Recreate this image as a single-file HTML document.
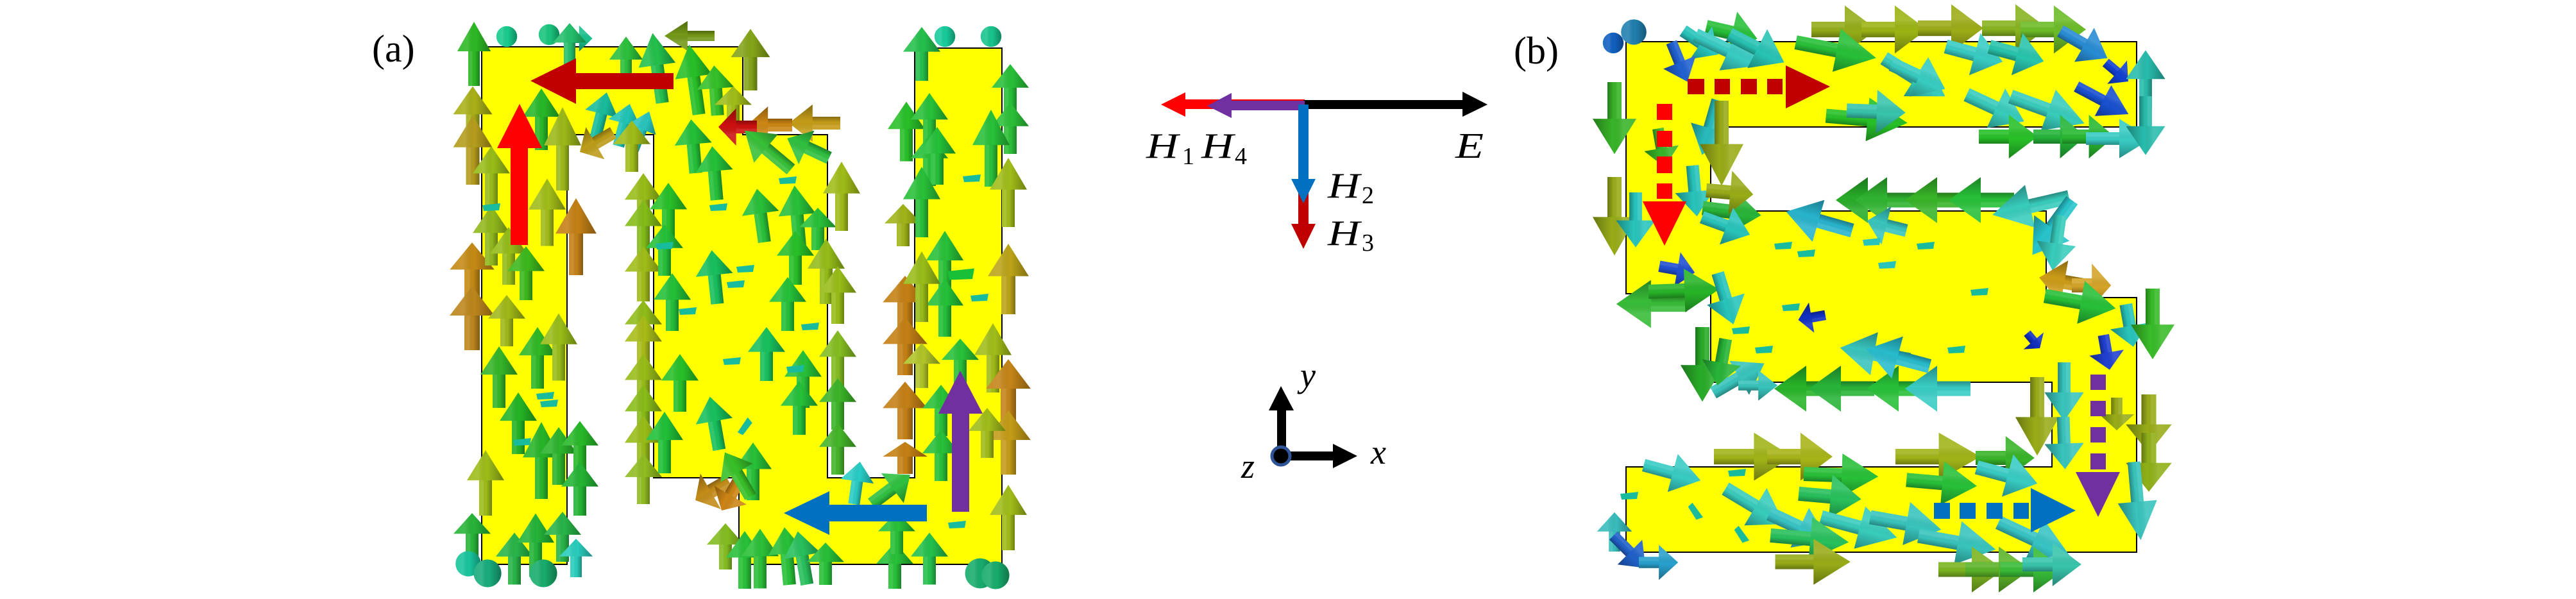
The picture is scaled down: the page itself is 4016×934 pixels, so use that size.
<!DOCTYPE html>
<html><head><meta charset="utf-8"><style>html,body{margin:0;padding:0;background:#fff}svg{display:block}</style></head><body>
<svg xmlns="http://www.w3.org/2000/svg" xmlns:xlink="http://www.w3.org/1999/xlink" width="4016" height="934" viewBox="0 0 4016 934">
<defs>
<linearGradient id="sh" x1="0" y1="0" x2="1" y2="0">
<stop offset="0" stop-color="#fff" stop-opacity=".08"/>
<stop offset=".3" stop-color="#fff" stop-opacity=".12"/>
<stop offset=".55" stop-color="#000" stop-opacity="0"/>
<stop offset="1" stop-color="#000" stop-opacity=".32"/>
</linearGradient>
<g id="a"><path d="M-10,-8H10V50H-10Z" fill="currentColor"/><path d="M-10,-8H10V50H-10Z" fill="url(#sh)"/><path d="M0,-50L29,-4H-29Z" fill="currentColor"/><path d="M0,-50L29,-4H-29Z" fill="url(#sh)"/></g>
<g id="b"><path d="M-11,-6H11V50H-11Z" fill="currentColor"/><path d="M-11,-6H11V50H-11Z" fill="url(#sh)"/><path d="M0,-52L34,-2H-34Z" fill="currentColor"/><path d="M0,-52L34,-2H-34Z" fill="url(#sh)"/></g>
<g id="o"><circle r="18" fill="currentColor"/><circle r="18" fill="url(#sh)"/></g>
<path id="s" d="M-14,-4L14,-7L12,4L-12,5Z" fill="currentColor"/>
</defs>
<rect width="4016" height="934" fill="#fff"/>

<!-- Panel (a) shape -->
<polygon points="751,73 1158,73 1158,210 1290,210 1290,745 1426,745 1426,75 1562,75 1562,880 1152,880 1152,745 1019,745 1019,210 884,210 884,880 751,880" fill="#ffff00" stroke="#000" stroke-width="2"/>
<!-- Panel (b) shape -->
<polygon points="2535,65 3331,65 3331,198 2667,198 2667,329 3190,329 3190,464 3331,464 3331,861 2535,861 2535,728 3199,728 3199,596 2667,596 2667,458 2535,458" fill="#ffff00" stroke="#000" stroke-width="2"/>

<text x="580" y="96" font-family="Liberation Serif, serif" font-size="60">(a)</text>
<text x="2360" y="99" font-family="Liberation Serif, serif" font-size="60">(b)</text>

<!-- Panel (a) arrows -->
<g>
<use href="#a" color="#2cb824" transform="translate(739,84) scale(0.9,1.0)"/>
<use href="#a" color="#a8b018" transform="translate(737,182) scale(1.05,0.95)"/>
<use href="#a" color="#b49c1c" transform="translate(737,234) scale(1.05,1.08)"/>
<use href="#a" color="#c48a14" transform="translate(736,424) scale(1.2,0.92)"/>
<use href="#a" color="#bc861c" transform="translate(736,496) scale(1.2,1.0)"/>
<use href="#a" color="#98bc18" transform="translate(766,274) scale(1,0.92)"/>
<use href="#a" color="#90b81c" transform="translate(766,367) scale(1,0.94)"/>
<use href="#a" color="#28b828" transform="translate(844,186) scale(1,0.96)"/>
<use href="#a" color="#9cb818" transform="translate(877,232) scale(1,1.3)"/>
<use href="#a" color="#a0bc18" transform="translate(853,331) scale(1,1.05)"/>
<use href="#a" color="#c48016" transform="translate(898,369) scale(1.1,1.2)"/>
<use href="#a" color="#94bc18" transform="translate(793,399) scale(1,0.9)"/>
<use href="#a" color="#3cb81c" transform="translate(820,426) scale(1,0.84)"/>
<use href="#a" color="#a0b818" transform="translate(790,500) scale(1,0.8)"/>
<use href="#a" color="#34b428" transform="translate(778,588) scale(1,0.96)"/>
<use href="#a" color="#30b824" transform="translate(838,558) scale(1,0.96)"/>
<use href="#a" color="#98bc18" transform="translate(871,541) scale(1,1.05)"/>
<use href="#a" color="#24b424" transform="translate(808,660) scale(1,0.96)"/>
<use href="#a" color="#28b428" transform="translate(844,718) scale(1,1.2)"/>
<use href="#a" color="#2cb42c" transform="translate(871,711) scale(1,0.9)"/>
<use href="#a" color="#28b828" transform="translate(904,698) scale(1,0.83)"/>
<use href="#a" color="#24b434" transform="translate(904,762) scale(1,0.84)"/>
<use href="#a" color="#9cbc18" transform="translate(757,753) scale(1,1.02)"/>
<use href="#a" color="#28b438" transform="translate(736,835) scale(1,0.7)"/>
<use href="#a" color="#28b448" transform="translate(802,871) scale(1,0.81)"/>
<use href="#a" color="#24b438" transform="translate(835,850) scale(1,0.99)"/>
<use href="#a" color="#28b448" transform="translate(877,837) scale(1,0.78)"/>
<use href="#a" color="#28ccbc" transform="translate(898,870) scale(0.9,0.6)"/>
<use href="#o" color="#18c49c" transform="translate(730,879) scale(1.1)"/>
<use href="#o" color="#18ac7c" transform="translate(760,894) scale(1.2)"/>
<use href="#o" color="#18ac6c" transform="translate(847,894) scale(1.2)"/>
<use href="#o" color="#18cc8c" transform="translate(790,57) scale(0.9)"/>
<use href="#o" color="#18c47c" transform="translate(856,54) scale(0.9)"/>
<use href="#a" color="#18c08c" transform="translate(901,60) rotate(90) scale(0.7,0.45)"/>
<use href="#s" color="#18bc9c" transform="translate(850,618)"/>
<use href="#s" color="#18bc9c" transform="translate(856,630)"/>
<use href="#s" color="#18bc9c" transform="translate(814,690)"/>
<use href="#s" color="#18bc9c" transform="translate(766,324)"/>

<use href="#a" color="#24c06c" transform="translate(888,69) scale(0.9,0.66)"/>
<use href="#a" color="#2cc03c" transform="translate(976,96) scale(0.9,0.78)"/>
<use href="#a" color="#24c04c" transform="translate(1025,106) rotate(-8) scale(1,1.1)"/>
<use href="#a" color="#749818" transform="translate(1075,56) rotate(-90) scale(0.8,0.78)"/>
<use href="#a" color="#84a418" transform="translate(1170,93) scale(1.05,0.96)"/>
<use href="#a" color="#28c028" transform="translate(1082,124) rotate(-8) scale(1,1.1)"/>
<use href="#a" color="#34c028" transform="translate(1116,141) rotate(-4) scale(1,0.78)"/>
<use href="#a" color="#a0bc18" transform="translate(1143,166) scale(1,0.63)"/>
<use href="#a" color="#18bc9c" transform="translate(937,180) rotate(14) scale(0.9,0.74)"/>
<use href="#a" color="#20c4b4" transform="translate(973,195) rotate(15) scale(0.9,0.68)"/>
<use href="#a" color="#28c4bc" transform="translate(1000,204) rotate(22) scale(0.8,0.65)"/>
<use href="#a" color="#a0bc18" transform="translate(985,228) scale(1,0.8)"/>
<use href="#a" color="#bc9c18" transform="translate(930,222) rotate(-120) scale(1,0.6)"/>
<use href="#a" color="#c49c18" transform="translate(1270,192) rotate(-90) scale(1,0.8)"/>
<use href="#a" color="#cc8614" transform="translate(1200,195) rotate(-90) scale(1,0.7)"/>
<use href="#a" color="#cc1010" transform="translate(1150,198) rotate(-90) scale(1,0.6)"/>
<use href="#a" color="#38c038" transform="translate(1197,234) rotate(-50) scale(1,0.94)"/>
<use href="#a" color="#30c040" transform="translate(1260,231) rotate(-65) scale(1,0.72)"/>

<use href="#a" color="#98bc18" transform="translate(1003,315) scale(1,0.9)"/>
<use href="#a" color="#84bc18" transform="translate(1003,356) scale(1,0.88)"/>
<use href="#a" color="#a0bc18" transform="translate(1003,427) scale(1,0.86)"/>
<use href="#a" color="#90bc18" transform="translate(1003,509) scale(1,0.82)"/>
<use href="#a" color="#a8bc18" transform="translate(1003,536) scale(1,0.88)"/>
<use href="#a" color="#98bc18" transform="translate(1003,596) scale(1,0.88)"/>
<use href="#a" color="#88bc18" transform="translate(1003,645) scale(1,0.9)"/>
<use href="#a" color="#98bc18" transform="translate(1003,694) scale(1,0.92)"/>
<use href="#a" color="#90bc20" transform="translate(1003,747) scale(1,0.78)"/>
<use href="#a" color="#28c028" transform="translate(1042,330) scale(1,0.9)"/>
<use href="#a" color="#24c038" transform="translate(1036,390) scale(1,0.8)"/>
<use href="#a" color="#24c038" transform="translate(1081,228) rotate(-5) scale(1,0.84)"/>
<use href="#a" color="#24c038" transform="translate(1114,270) rotate(-5) scale(1,0.84)"/>
<use href="#a" color="#28c038" transform="translate(1186,336) rotate(-8) scale(1,0.84)"/>
<use href="#a" color="#28c038" transform="translate(1243,339) rotate(-5) scale(1,1.0)"/>
<use href="#a" color="#28c038" transform="translate(1275,357) scale(1,0.66)"/>
<use href="#a" color="#18c05c" transform="translate(1114,432) rotate(-6) scale(1,0.84)"/>
<use href="#a" color="#24c038" transform="translate(1048,471) scale(1,0.9)"/>
<use href="#a" color="#28c028" transform="translate(1240,402) scale(1,0.84)"/>
<use href="#a" color="#94bc18" transform="translate(1288,423) scale(1,1.02)"/>
<use href="#a" color="#a0bc18" transform="translate(1312,306) scale(1,1.08)"/>
<use href="#a" color="#24c038" transform="translate(1228,474) scale(1,0.84)"/>
<use href="#a" color="#18c05c" transform="translate(1195,552) scale(1,0.84)"/>
<use href="#a" color="#98bc18" transform="translate(1306,460) scale(1,0.9)"/>
<use href="#a" color="#84bc20" transform="translate(1306,560) scale(1,0.9)"/>
<use href="#a" color="#3cb428" transform="translate(1306,630) scale(1,0.8)"/>
<use href="#a" color="#44b428" transform="translate(1306,700) scale(1,0.8)"/>
<use href="#a" color="#28c038" transform="translate(1252,591) scale(1,0.9)"/>
<use href="#a" color="#24c038" transform="translate(1246,636) scale(1,0.84)"/>
<use href="#a" color="#28c028" transform="translate(1060,597) scale(1,0.9)"/>
<use href="#a" color="#20c038" transform="translate(1036,690) scale(1,0.96)"/>
<use href="#a" color="#18c05c" transform="translate(1114,660) rotate(-10) scale(1,0.84)"/>
<use href="#a" color="#28c038" transform="translate(1174,735) scale(1,0.9)"/>
<use href="#a" color="#c48c18" transform="translate(1110,765) rotate(-120) scale(1.1,0.6)"/>
<use href="#a" color="#cc8414" transform="translate(1140,770) rotate(-150) scale(1,0.6)"/>
<use href="#a" color="#38c028" transform="translate(1150,740) rotate(-30) scale(1,0.8)"/>
<use href="#s" color="#18bc9c" transform="translate(1120,324)"/>
<use href="#s" color="#18bc9c" transform="translate(1162,420)"/>
<use href="#s" color="#18bc9c" transform="translate(1147,444)"/>
<use href="#s" color="#18bc9c" transform="translate(1072,486)"/>
<use href="#s" color="#18bc9c" transform="translate(1036,384)"/>
<use href="#s" color="#18bc9c" transform="translate(1263,510)"/>
<use href="#s" color="#18bc9c" transform="translate(1240,576)"/>
<use href="#s" color="#18bc9c" transform="translate(1228,282)"/>
<use href="#s" color="#18bc9c" transform="translate(1162,666) rotate(-50)"/>
<use href="#s" color="#18bc9c" transform="translate(1141,564)"/>

<use href="#a" color="#28ccc4" transform="translate(1336,753) rotate(8) scale(0.9,0.67)"/>
<use href="#a" color="#30c040" transform="translate(1389,763) rotate(53) scale(1,0.75)"/>
<use href="#a" color="#84bc20" transform="translate(1131,852) scale(1,0.72)"/>
<use href="#a" color="#28c038" transform="translate(1161,873) scale(1,0.9)"/>
<use href="#a" color="#2cc038" transform="translate(1185,871) scale(1,0.93)"/>
<use href="#a" color="#28c038" transform="translate(1227,867) rotate(-5) scale(1,0.9)"/>
<use href="#a" color="#28c05c" transform="translate(1251,870) rotate(-10) scale(1,0.84)"/>
<use href="#a" color="#28c038" transform="translate(1287,879) scale(1,0.66)"/>
<use href="#a" color="#28c038" transform="translate(1395,882) scale(1,0.72)"/>
<use href="#a" color="#24c04c" transform="translate(1449,871) scale(1,0.81)"/>
<use href="#a" color="#28c038" transform="translate(1398,831) scale(1,0.66)"/>

<use href="#a" color="#c48014" transform="translate(1411,475) scale(1.2,0.9)"/>
<use href="#a" color="#c48014" transform="translate(1411,540) scale(1.2,0.9)"/>
<use href="#a" color="#c48016" transform="translate(1411,640) scale(1.2,0.9)"/>
<use href="#a" color="#c48014" transform="translate(1411,714) scale(1.2,0.5)"/>
<use href="#a" color="#a0b418" transform="translate(1408,351) scale(1,0.66)"/>
<use href="#a" color="#24c04c" transform="translate(1437,84) scale(1,0.84)"/>
<use href="#a" color="#28c028" transform="translate(1413,205) scale(1,0.93)"/>
<use href="#a" color="#28c038" transform="translate(1449,190) scale(1,0.9)"/>
<use href="#a" color="#28c038" transform="translate(1449,250) scale(1,0.8)"/>
<use href="#a" color="#24c038" transform="translate(1461,243) scale(1,0.9)"/>
<use href="#a" color="#28c038" transform="translate(1437,315) scale(1,1.1)"/>
<use href="#a" color="#28c038" transform="translate(1473,410) scale(1,1.0)"/>
<use href="#a" color="#24c038" transform="translate(1473,480) scale(1,0.9)"/>
<use href="#a" color="#98bc18" transform="translate(1437,447) scale(1,1.1)"/>
<use href="#a" color="#28c038" transform="translate(1575,140) scale(1,0.8)"/>
<use href="#a" color="#2cc038" transform="translate(1575,200) scale(1,0.8)"/>
<use href="#a" color="#28c038" transform="translate(1545,231) scale(1,1.2)"/>
<use href="#a" color="#a0bc18" transform="translate(1572,300) scale(1,1.08)"/>
<use href="#a" color="#bca418" transform="translate(1572,435) scale(1.1,1.1)"/>
<use href="#a" color="#a0bc18" transform="translate(1548,558) scale(1,1.08)"/>
<use href="#a" color="#c48418" transform="translate(1572,610) scale(1.2,1.0)"/>
<use href="#a" color="#c49c18" transform="translate(1572,690) scale(1.2,1.0)"/>
<use href="#a" color="#a0bc18" transform="translate(1539,675) scale(1,0.78)"/>
<use href="#a" color="#a0bc18" transform="translate(1572,807) scale(1,1.02)"/>
<use href="#a" color="#28c038" transform="translate(1497,564) scale(1,0.72)"/>
<use href="#a" color="#28c038" transform="translate(1467,640) scale(1,0.8)"/>
<use href="#a" color="#28c038" transform="translate(1467,710) scale(1,0.8)"/>
<use href="#a" color="#b0c428" transform="translate(1437,570) scale(1,0.7)"/>
<use href="#o" color="#18cc9c" transform="translate(1473,57) scale(0.9)"/>
<use href="#o" color="#18c48c" transform="translate(1545,57) scale(0.9)"/>
<use href="#o" color="#18ac6c" transform="translate(1528,894) scale(1.3)"/>
<use href="#o" color="#18ac6c" transform="translate(1552,897) scale(1.2)"/>
<use href="#s" color="#18bc9c" transform="translate(1515,279)"/>
<use href="#s" color="#18c038" transform="translate(1498,429) scale(1.5)"/>
<use href="#s" color="#18bc9c" transform="translate(1527,465)"/>
<use href="#s" color="#18bc9c" transform="translate(1492,819)"/>
</g>

<!-- Panel (a) overlay arrows -->
<rect x="898" y="114" width="152" height="25" fill="#c00000"/>
<polygon points="827,126 898,91 898,162" fill="#c00000"/>
<rect x="796" y="231" width="27" height="151" fill="#ff0000"/>
<polygon points="775,231 845,231 810,162" fill="#ff0000"/>
<rect x="1293" y="787" width="152" height="26" fill="#0070c0"/>
<polygon points="1222,800 1293,766 1293,834" fill="#0070c0"/>
<rect x="1484" y="645" width="27" height="153" fill="#7030a0"/>
<polygon points="1463,645 1532,645 1497,578" fill="#7030a0"/>

<!-- Panel (b) arrows -->
<g>
<use href="#o" color="#1060c0" transform="translate(2515,67) scale(0.9)"/>
<use href="#o" color="#2080b0" transform="translate(2547,50) scale(1.1)"/>
<use href="#b" color="#94ac18" transform="translate(2874,46) rotate(90) scale(1.1,1.0)"/>
<use href="#b" color="#9cb414" transform="translate(2952,46) rotate(90) scale(1.1,1.0)"/>
<use href="#b" color="#9cac18" transform="translate(3040,44) rotate(90) scale(1.1,1.0)"/>
<use href="#b" color="#88b420" transform="translate(3140,44) rotate(90) scale(1.1,1.0)"/>
<use href="#b" color="#6cbc28" transform="translate(3200,46) rotate(90) scale(1.1,1.0)"/>
<use href="#b" color="#28c038" transform="translate(2699,51) rotate(103) scale(1,0.8)"/>
<use href="#b" color="#28c4bc" transform="translate(2651,66) rotate(124) scale(0.9,0.65)"/>
<use href="#b" color="#38ccc4" transform="translate(2693,78) rotate(115) scale(1,1.1)"/>
<use href="#b" color="#28c4b4" transform="translate(2738,75) rotate(117) scale(1,0.94)"/>
<use href="#b" color="#28c038" transform="translate(2861,78) rotate(101) scale(1,1.25)"/>
<use href="#b" color="#38ccbc" transform="translate(2984,120) rotate(122) scale(1,1.1)"/>
<use href="#b" color="#38ccc0" transform="translate(2990,119) rotate(115) scale(1,0.9)"/>
<use href="#b" color="#38ccc4" transform="translate(3077,84) rotate(105) scale(1,0.9)"/>
<use href="#b" color="#28c4ac" transform="translate(3143,84) rotate(105) scale(1,0.86)"/>
<use href="#b" color="#288cd4" transform="translate(3248,69) rotate(120) scale(0.9,0.83)"/>
<use href="#b" color="#1040d0" transform="translate(3300,112) rotate(130) scale(0.7,0.45)"/>
<use href="#b" color="#28c028" transform="translate(2909,186) rotate(95) scale(1,1.25)"/>
<use href="#b" color="#38c4ac" transform="translate(2924,174) rotate(92) scale(1,0.9)"/>
<use href="#b" color="#38ccbc" transform="translate(3110,168) rotate(115) scale(1,0.97)"/>
<use href="#b" color="#38ccbc" transform="translate(3191,171) rotate(110) scale(1,1.2)"/>
<use href="#b" color="#28c028" transform="translate(3130,213) rotate(90) scale(1,0.9)"/>
<use href="#b" color="#24b438" transform="translate(3210,213) rotate(90) scale(1,0.8)"/>
<use href="#b" color="#28b830" transform="translate(3255,213) rotate(90) scale(1,0.8)"/>
<use href="#b" color="#38ccc4" transform="translate(3302,216) rotate(90) scale(0.9,1.0)"/>
<use href="#b" color="#1850d0" transform="translate(3277,156) rotate(118) scale(0.8,0.9)"/>
<use href="#b" color="#28bcac" transform="translate(3345,125) scale(0.9,0.9)"/>
<use href="#b" color="#28bcac" transform="translate(3345,195) rotate(180) scale(0.9,0.9)"/>

<use href="#b" color="#38b428" transform="translate(2517,183) rotate(180) scale(1.0,1.1)"/>
<use href="#b" color="#98ac18" transform="translate(2517,336) rotate(180) scale(1.0,1.2)"/>
<use href="#b" color="#28c4bc" transform="translate(2550,342) rotate(180) scale(0.9,0.84)"/>
<use href="#b" color="#28bcbc" transform="translate(2666,198) rotate(-164) scale(0.9,0.87)"/>
<use href="#b" color="#98ac18" transform="translate(2684,222) rotate(180) scale(1.0,1.3)"/>
<use href="#b" color="#28c4bc" transform="translate(2642,297) rotate(175) scale(0.9,0.78)"/>
<use href="#b" color="#2060d0" transform="translate(2618,96) rotate(158) scale(0.8,0.65)"/>
<use href="#b" color="#38b428" transform="translate(2590,230) rotate(170) scale(0.8,0.6)"/>

<use href="#b" color="#28ac28" transform="translate(2914,312) rotate(-90) scale(1.05,1.0)"/>
<use href="#b" color="#30b430" transform="translate(2944,312) rotate(-90) scale(1.05,1.0)"/>
<use href="#b" color="#38b428" transform="translate(3022,312) rotate(-90) scale(1.05,1.0)"/>
<use href="#b" color="#28c038" transform="translate(3090,312) rotate(-90) scale(1.05,1.0)"/>
<use href="#b" color="#38ccbc" transform="translate(3167,321) rotate(-103) scale(1,1.2)"/>
<use href="#b" color="#28b4cc" transform="translate(2837,345) rotate(-74) scale(1,1.05)"/>
<use href="#b" color="#38c4bc" transform="translate(2942,352) rotate(-76) scale(0.9,0.62)"/>
<use href="#b" color="#28b438" transform="translate(2699,330) rotate(97) scale(1,0.9)"/>
<use href="#b" color="#98ac18" transform="translate(2696,300) rotate(95) scale(1,0.72)"/>
<use href="#b" color="#28c4bc" transform="translate(2690,352) rotate(110) scale(0.9,0.78)"/>

<use href="#b" color="#2050d0" transform="translate(2614,420) rotate(100) scale(0.8,0.55)"/>
<use href="#b" color="#38bc38" transform="translate(2576,474) rotate(-90) scale(1.1,1.08)"/>
<use href="#b" color="#28b428" transform="translate(2624,453) rotate(88) scale(1,1.08)"/>
<use href="#b" color="#28c4bc" transform="translate(2690,465) rotate(163) scale(0.9,0.82)"/>

<use href="#b" color="#28c4cc" transform="translate(3200,354) rotate(-144) scale(1,1.03)"/>
<use href="#b" color="#38ccbc" transform="translate(3206,378) rotate(188) scale(0.9,0.85)"/>
<use href="#b" color="#cc9c18" transform="translate(3220,440) rotate(-80) scale(1.0,0.8)"/>
<use href="#b" color="#d4a428" transform="translate(3260,445) rotate(90) scale(1.0,0.6)"/>
<use href="#b" color="#28c038" transform="translate(3242,471) rotate(100) scale(1,1.1)"/>
<use href="#b" color="#28c4bc" transform="translate(3320,507) rotate(170) scale(0.9,0.66)"/>
<use href="#b" color="#38bc28" transform="translate(3356,504) rotate(180) scale(1.0,1.08)"/>
<use href="#b" color="#2040d0" transform="translate(3284,549) rotate(170) scale(0.8,0.54)"/>
<use href="#b" color="#1030c0" transform="translate(3170,531) rotate(140) scale(0.6,0.3)"/>

<use href="#b" color="#28b428" transform="translate(2818,606) rotate(-90) scale(1.05,1.0)"/>
<use href="#b" color="#28b438" transform="translate(2872,606) rotate(-90) scale(1.05,1.0)"/>
<use href="#b" color="#28c038" transform="translate(2962,606) rotate(-90) scale(1.05,1.0)"/>
<use href="#b" color="#38ccc4" transform="translate(3022,606) rotate(-90) scale(1.05,1.0)"/>
<use href="#b" color="#38c4bc" transform="translate(2924,552) rotate(-80) scale(1,1.08)"/>
<use href="#b" color="#28bccc" transform="translate(2960,558) rotate(-75) scale(1,1.0)"/>
<use href="#b" color="#28ac28" transform="translate(2654,567) rotate(180) scale(1.0,1.14)"/>
<use href="#b" color="#38c4bc" transform="translate(2710,590) rotate(60) scale(0.9,0.9)"/>
<use href="#b" color="#28b438" transform="translate(2684,564) rotate(190) scale(0.9,0.72)"/>
<use href="#b" color="#38c4bc" transform="translate(2740,601) rotate(90) scale(0.7,0.6)"/>
<use href="#b" color="#1030c0" transform="translate(2825,495) rotate(-100) scale(0.7,0.42)"/>
<use href="#s" color="#18bc9c" transform="translate(2780,384)"/>
<use href="#s" color="#18bc9c" transform="translate(2816,396)"/>
<use href="#s" color="#28c4bc" transform="translate(2918,378)"/>
<use href="#s" color="#18bc9c" transform="translate(3002,384)"/>
<use href="#s" color="#28c4bc" transform="translate(2942,414)"/>
<use href="#s" color="#18bc9c" transform="translate(2714,516)"/>
<use href="#s" color="#18bc9c" transform="translate(2750,546)"/>
<use href="#s" color="#18bc9c" transform="translate(3050,546)"/>
<use href="#s" color="#18bc9c" transform="translate(3086,456)"/>
<use href="#s" color="#18bc9c" transform="translate(2792,480)"/>

<use href="#b" color="#98ac18" transform="translate(3176,648) rotate(180) scale(1.0,1.2)"/>
<use href="#b" color="#38c4bc" transform="translate(3218,610) rotate(180) scale(0.9,0.9)"/>
<use href="#b" color="#38c4bc" transform="translate(3218,690) rotate(178) scale(0.9,0.8)"/>
<use href="#b" color="#98ac18" transform="translate(3350,660) rotate(180) scale(1.05,0.9)"/>
<use href="#b" color="#90b018" transform="translate(3350,720) rotate(180) scale(1.05,0.9)"/>
<use href="#b" color="#38c4bc" transform="translate(3332,780) rotate(175) scale(0.9,1.2)"/>
<use href="#b" color="#98ac18" transform="translate(3300,645) rotate(180) scale(0.8,0.5)"/>

<use href="#b" color="#a0b418" transform="translate(2732,712) rotate(90) scale(1.1,1.2)"/>
<use href="#b" color="#a8b418" transform="translate(2805,712) rotate(90) scale(1.1,1.0)"/>
<use href="#b" color="#a0b418" transform="translate(3020,712) rotate(90) scale(1.1,1.3)"/>
<use href="#b" color="#38b428" transform="translate(3125,714) rotate(90) scale(1,0.9)"/>

<use href="#b" color="#38ccc4" transform="translate(2606,737) rotate(105) scale(0.9,0.9)"/>
<use href="#b" color="#28c038" transform="translate(2869,741) rotate(92) scale(1,1.14)"/>
<use href="#b" color="#28c05c" transform="translate(2852,774) rotate(95) scale(1,0.96)"/>
<use href="#b" color="#38ccbc" transform="translate(2735,789) rotate(121) scale(1,1.05)"/>
<use href="#b" color="#38c4c4" transform="translate(2804,822) rotate(115) scale(1,1.0)"/>
<use href="#b" color="#38ccbc" transform="translate(2897,822) rotate(105) scale(1,1.2)"/>
<use href="#b" color="#38c4bc" transform="translate(2970,816) rotate(100) scale(1,1.1)"/>
<use href="#b" color="#28c038" transform="translate(3026,753) rotate(95) scale(1,1.08)"/>
<use href="#b" color="#38ccc4" transform="translate(3128,741) rotate(105) scale(1,0.96)"/>
<use href="#b" color="#38c4bc" transform="translate(3050,846) rotate(100) scale(1,1.2)"/>
<use href="#b" color="#38c4c4" transform="translate(3170,840) rotate(115) scale(1,1.2)"/>
<use href="#b" color="#28c05c" transform="translate(2820,840) rotate(95) scale(1,1.2)"/>
<use href="#b" color="#98ac18" transform="translate(2825,876) rotate(90) scale(1.05,1.15)"/>
<use href="#b" color="#7cb420" transform="translate(3072,888) rotate(90) scale(1.05,1.0)"/>
<use href="#b" color="#5cb428" transform="translate(3114,888) rotate(90) scale(1.05,1.0)"/>
<use href="#b" color="#38bc38" transform="translate(3168,888) rotate(90) scale(1.05,1.0)"/>
<use href="#b" color="#38c4ac" transform="translate(3198,880) rotate(90) scale(1,0.9)"/>
<use href="#b" color="#38bcbc" transform="translate(2517,830) rotate(0) scale(0.8,0.6)"/>
<use href="#b" color="#2060c8" transform="translate(2540,860) rotate(135) scale(0.8,0.7)"/>
<use href="#b" color="#28a0cc" transform="translate(2585,877) rotate(90) scale(0.8,0.6)"/>
<use href="#s" color="#18bc9c" transform="translate(2708,738)"/>
<use href="#s" color="#18bc9c" transform="translate(2642,798) rotate(60)"/>
<use href="#s" color="#18bc9c" transform="translate(2714,834) rotate(60)"/>
<use href="#s" color="#18bc9c" transform="translate(2540,774)"/>
</g>

<!-- Panel (b) dashed overlay arrows -->
<g fill="#c00000">
<rect x="2631" y="123" width="26" height="24"/><rect x="2673" y="123" width="24" height="24"/><rect x="2714" y="123" width="25" height="24"/><rect x="2755" y="123" width="24" height="24"/>
<polygon points="2784,102 2853,135 2784,169"/>
</g>
<g fill="#ff0000">
<rect x="2583" y="162" width="24" height="25"/><rect x="2583" y="204" width="24" height="25"/><rect x="2583" y="244" width="24" height="26"/><rect x="2583" y="286" width="24" height="24"/>
<polygon points="2561,314 2629,314 2595,383"/>
</g>
<g fill="#7030a0">
<rect x="3259" y="584" width="24" height="24"/><rect x="3259" y="625" width="24" height="24"/><rect x="3259" y="666" width="24" height="24"/><rect x="3259" y="707" width="24" height="25"/>
<polygon points="3236,736 3305,736 3271,806"/>
</g>
<g fill="#0070c0">
<rect x="3015" y="784" width="25" height="25"/><rect x="3055" y="784" width="25" height="25"/><rect x="3097" y="784" width="25" height="25"/><rect x="3139" y="784" width="24" height="25"/>
<polygon points="3166,761 3236,796 3166,830"/>
</g>

<!-- Legend -->
<rect x="1848" y="155" width="186" height="15" fill="#ff0000"/>
<polygon points="1810,163 1848,144 1848,182" fill="#ff0000"/>
<rect x="2032" y="156" width="248" height="14" fill="#000"/>
<polygon points="2319,163 2280,143 2280,182" fill="#000"/>
<rect x="1920" y="157" width="114" height="15" fill="#7030a0"/>
<polygon points="1882,165 1920,145 1920,184" fill="#7030a0"/>
<rect x="2024" y="300" width="16" height="50" fill="#c00000"/>
<polygon points="2013,349 2051,349 2032,388" fill="#c00000"/>
<rect x="2024" y="163" width="16" height="117" fill="#0070c0"/>
<polygon points="2013,279 2051,279 2032,317" fill="#0070c0"/>

<g font-family="Liberation Serif, serif" fill="#000">
<text x="1787" y="246" font-size="56" font-style="italic" textLength="50" lengthAdjust="spacingAndGlyphs">H</text>
<text x="1843" y="256" font-size="38">1</text>
<text x="1873" y="246" font-size="56" font-style="italic" textLength="50" lengthAdjust="spacingAndGlyphs">H</text>
<text x="1925" y="256" font-size="38">4</text>
<text x="2269" y="246" font-size="56" font-style="italic" textLength="44" lengthAdjust="spacingAndGlyphs">E</text>
<text x="2070" y="308" font-size="56" font-style="italic" textLength="50" lengthAdjust="spacingAndGlyphs">H</text>
<text x="2123" y="317" font-size="38">2</text>
<text x="2070" y="382" font-size="56" font-style="italic" textLength="50" lengthAdjust="spacingAndGlyphs">H</text>
<text x="2123" y="391" font-size="38">3</text>
<text x="2027" y="603" font-size="54" font-style="italic">y</text>
<text x="2137" y="723" font-size="54" font-style="italic">x</text>
<text x="1935" y="745" font-size="54" font-style="italic">z</text>
</g>

<!-- Axes -->
<rect x="1991" y="640" width="14" height="71" fill="#000"/>
<polygon points="1978,640 2017,640 1997,602" fill="#000"/>
<rect x="1997" y="704" width="81" height="14" fill="#000"/>
<polygon points="2078,692 2078,730 2116,711" fill="#000"/>
<circle cx="1997" cy="711" r="14" fill="#000" stroke="#2f5597" stroke-width="5"/>
</svg>
</body></html>
